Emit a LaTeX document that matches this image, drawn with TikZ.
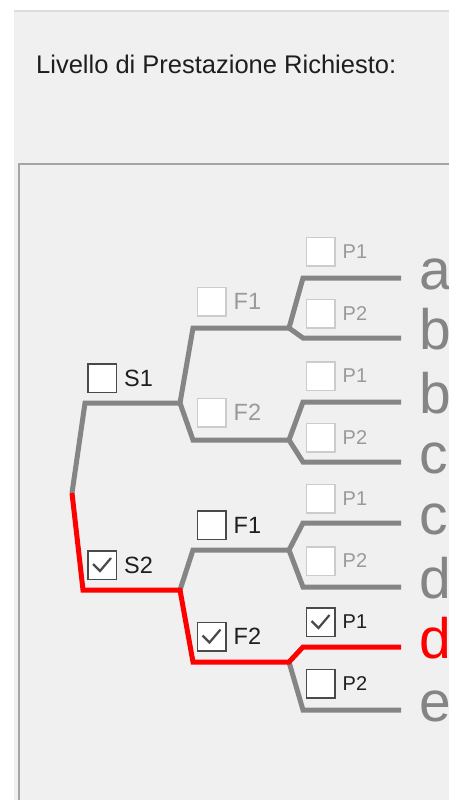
\documentclass[tikz,border=0pt]{standalone}
\usepackage{fontspec}
\setmainfont{Liberation Sans}
\usetikzlibrary{positioning}
\definecolor{panel}{HTML}{F0F0F0}
\definecolor{rulegray}{HTML}{DCDCDC}
\definecolor{framegray}{HTML}{A5A5A5}
\definecolor{branchgray}{HTML}{858585}
\definecolor{boxon}{HTML}{4A4A4A}
\definecolor{boxoff}{HTML}{CCCCCC}
\definecolor{texton}{HTML}{1E1E1E}
\definecolor{textoff}{HTML}{9A9A9A}
\definecolor{pick}{HTML}{FF0000}
\tikzset{
  cb/.style={draw=boxon, fill=white, line width=1.5pt, minimum size=28.5pt, inner sep=0pt},
  cboff/.style={cb, draw=boxoff},
  cbon/.style={cb, path picture={\draw[boxon, line width=2.2pt]
      ([shift={(-9,-1)}]path picture bounding box.center) -- ++(7,7) -- ++(11,-13);}},
  lab/.style={inner sep=0pt, text=texton, font=\fontsize{23.5}{24}\selectfont},
  laboff/.style={lab, text=textoff},
  plab/.style={lab, font=\fontsize{20}{21}\selectfont},
  ploff/.style={plab, text=textoff},
  leaf/.style={anchor=base west, inner sep=0pt, text=branchgray, font=\fontsize{57}{60}\selectfont},
  arm/.style={draw=branchgray, line width=5pt},
  chosen/.style={draw=pick, line width=5pt}
}
\begin{document}
\begin{tikzpicture}[x=1pt, y=-1pt]
  \clip (0,0) rectangle (449,800);
  \fill[white] (0,0) rectangle (449,800);
  \fill[panel] (14,11) rectangle (449,800);
  \draw[rulegray, line width=2pt] (14,11) -- (449,11);
  \draw[framegray, line width=2pt] (18.5,810) |- (460,163.5);
  \node[anchor=base west, inner sep=0pt, text=texton, font=\fontsize{25.5}{26}\selectfont] (title) at (36,74) {Livello di Prestazione Richiesto:};

  % branch points
  \coordinate (r) at (72,493);
  \coordinate (s1k) at (85,403);   \coordinate (s1j) at (180,403);
  \coordinate (s2k) at (83,590);   \coordinate (s2j) at (180,590);
  \coordinate (s1f1k) at (193,328); \coordinate (s1f1j) at (289,328);
  \coordinate (s1f2k) at (193,440); \coordinate (s1f2j) at (289,440);
  \coordinate (s2f1k) at (193,550); \coordinate (s2f1j) at (289,550);
  \coordinate (s2f2k) at (193,662); \coordinate (s2f2j) at (289,662);
  \coordinate (q1k) at (303,278); \coordinate (q1) at (401,278);
  \coordinate (q2k) at (303,338); \coordinate (q2) at (401,338);
  \coordinate (q3k) at (303,402); \coordinate (q3) at (401,402);
  \coordinate (q4k) at (303,462); \coordinate (q4) at (401,462);
  \coordinate (q5k) at (303,523); \coordinate (q5) at (401,523);
  \coordinate (q6k) at (303,587); \coordinate (q6) at (401,587);
  \coordinate (q7k) at (303,647); \coordinate (q7) at (401,647);
  \coordinate (q8k) at (303,710); \coordinate (q8) at (401,710);

  % gray tree
  \draw[arm] (r) -- (s1k) -- (s1j);
  \draw[arm] (s1j) -- (s1f1k) -- (s1f1j);
  \draw[arm] (s1j) -- (s1f2k) -- (s1f2j);
  \draw[arm] (s2j) -- (s2f1k) -- (s2f1j);
  \draw[arm] (s1f1j) -- (q1k) -- (q1);
  \draw[arm] (s1f1j) -- (q2k) -- (q2);
  \draw[arm] (s1f2j) -- (q3k) -- (q3);
  \draw[arm] (s1f2j) -- (q4k) -- (q4);
  \draw[arm] (s2f1j) -- (q5k) -- (q5);
  \draw[arm] (s2f1j) -- (q6k) -- (q6);
  \draw[arm] (s2f2j) -- (q8k) -- (q8);
  % chosen path
  \draw[chosen] (r) -- (s2k) -- (s2j) -- (s2f2k) -- (s2f2j) -- (q7k) -- (q7);

  % check boxes
  \node[cb] (s1) at (102,378) {};
  \node[lab, right=7pt of s1] (s1t) {S1};
  \node[cbon] (s2) at (102,565) {};
  \node[lab, right=7pt of s2] (s2t) {S2};
  \node[cboff] (s1f1) at (211.5,301.5) {};
  \node[laboff, right=7pt of s1f1] (s1f1t) {F1};
  \node[cboff] (s1f2) at (211.5,412.5) {};
  \node[laboff, right=7pt of s1f2] (s1f2t) {F2};
  \node[cb] (s2f1) at (211.5,525) {};
  \node[lab, right=7pt of s2f1] (s2f1t) {F1};
  \node[cbon] (s2f2) at (211.5,636.5) {};
  \node[lab, right=7pt of s2f2] (s2f2t) {F2};
  \node[cboff] (p1) at (320.5,251.5) {};
  \node[ploff, right=7pt of p1] (p1t) {P1};
  \node[cboff] (p2) at (320.5,313.5) {};
  \node[ploff, right=7pt of p2] (p2t) {P2};
  \node[cboff] (p3) at (320.5,376) {};
  \node[ploff, right=7pt of p3] (p3t) {P1};
  \node[cboff] (p4) at (320.5,437.5) {};
  \node[ploff, right=7pt of p4] (p4t) {P2};
  \node[cboff] (p5) at (320.5,498.5) {};
  \node[ploff, right=7pt of p5] (p5t) {P1};
  \node[cboff] (p6) at (320.5,561) {};
  \node[ploff, right=7pt of p6] (p6t) {P2};
  \node[cbon] (p7) at (320.5,622) {};
  \node[plab, right=7pt of p7] (p7t) {P1};
  \node[cb] (p8) at (320.5,683.5) {};
  \node[plab, right=7pt of p8] (p8t) {P2};

  % leaves
  \node[leaf] (la) at (419,289) {a};
  \node[leaf] (lb) at (419,349) {b};
  \node[leaf] (lc) at (419,413) {b};
  \node[leaf] (ld) at (419,473) {c};
  \node[leaf] (le) at (419,534) {c};
  \node[leaf] (lf) at (419,598) {d};
  \node[leaf, text=pick] (lg) at (419,658) {d};
  \node[leaf] (lh) at (419,721) {e};
\end{tikzpicture}
\end{document}
